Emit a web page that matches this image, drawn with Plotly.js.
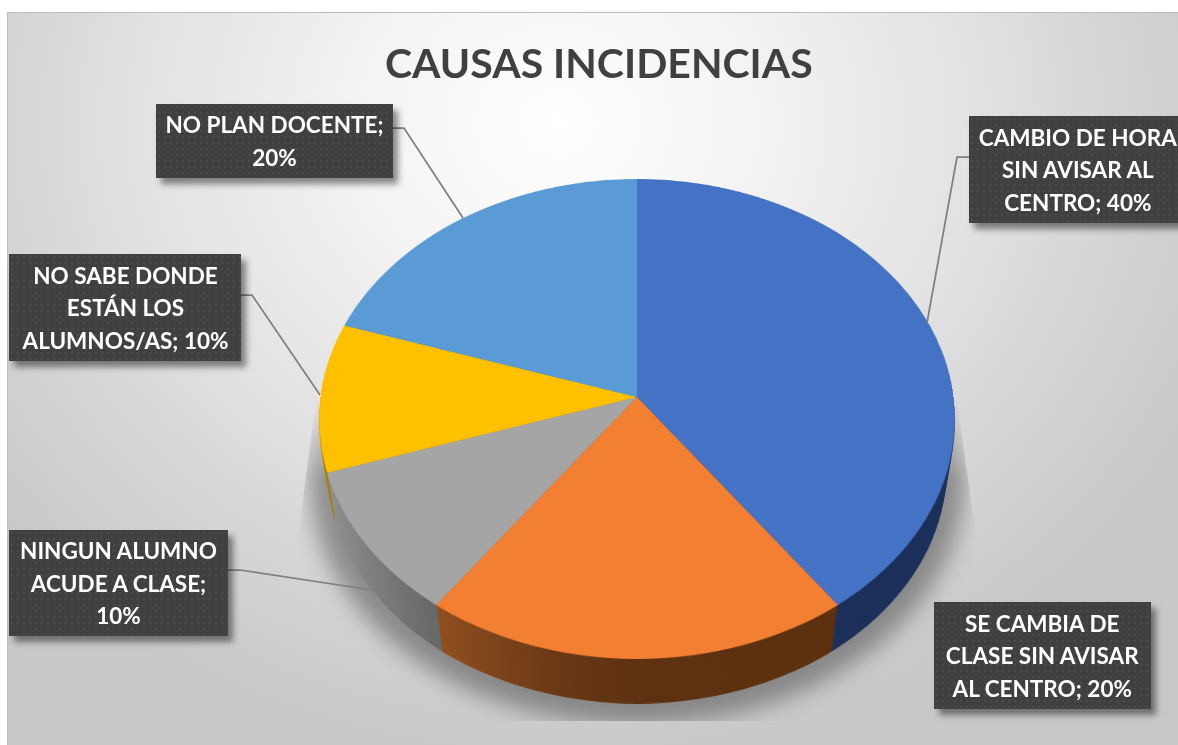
<!DOCTYPE html>
<html><head><meta charset="utf-8">
<script src="https://cdn.plot.ly/plotly-3.0.1.min.js"></script>
<style>
html,body{margin:0;padding:0;background:#fff;overflow:hidden;width:1178px;height:745px}
#stage{position:absolute;left:0;top:0;width:1178px;height:745px;overflow:hidden}
#bg{position:absolute;left:7px;top:12px;width:1171px;height:733px;box-sizing:border-box;border-left:1.5px solid #bdbdbd;border-top:1.5px solid #bdbdbd;
background:radial-gradient(ellipse 720px 640px at 550px 110px,#ffffff 0%,#f3f3f3 28%,#e2e2e2 58%,#d2d2d2 82%,#c8c8c8 100%)}
.pie{position:absolute;left:0;top:0;width:640px;height:640px;transform-origin:0 0}
#shadow{position:absolute;left:0;top:0;width:1178px;height:745px;filter:blur(11px);opacity:.55}
#shadowClip{position:absolute;left:0;top:0;width:1178px;height:745px;
clip-path:polygon(316px 400px,957px 400px,977px 545px,977px 721px,297px 721px,297px 545px);
-webkit-mask-image:linear-gradient(to bottom,transparent 385px,#000 480px);mask-image:linear-gradient(to bottom,transparent 385px,#000 480px)}
#overlay{position:absolute;left:0;top:0;width:1178px;height:745px}
</style></head><body>
<div id="stage"><div id="bg"></div><div id="shadowClip"><div id="shadow"></div></div><div id="sides"></div><div id="top"></div><div id="overlay"></div></div>
<svg width="0" height="0" style="position:absolute"><defs>
<linearGradient id="gOrange" x1="0" x2="1" y1="0" y2="0"><stop offset="0" stop-color="#8f4e1e"/><stop offset=".3" stop-color="#6a3815"/><stop offset=".5" stop-color="#5e3110"/><stop offset="1" stop-color="#5c2f0e"/></linearGradient>
<linearGradient id="gGray" x1="0" x2="1" y1="0" y2="0"><stop offset="0" stop-color="#8f8f8f"/><stop offset=".36" stop-color="#686868"/><stop offset="1" stop-color="#666"/></linearGradient>
<pattern id="dots" width="6" height="6" patternUnits="userSpaceOnUse"><rect width="6" height="6" fill="#404040"/><rect x="2" y="2" width="2" height="2" fill="#4a4a4a"/></pattern>
</defs></svg>
<script>
var categories=["CAMBIO DE HORA SIN AVISAR AL CENTRO","SE CAMBIA DE CLASE SIN AVISAR AL CENTRO","NINGUN ALUMNO ACUDE A CLASE","NO SABE DONDE ESTÁN LOS ALUMNOS/AS","NO PLAN DOCENTE"];
var values=[40,20,10,10,20];
var faceColors=["#4472C4","#F27F32","#A5A5A5","#FFC000","#5B9BD5"];
var sideColors=["#1B2F5A","#6e3a12","#6e6e6e","#A67C00","#3a6a96"];
var labelLines=[["CAMBIO DE HORA","SIN AVISAR AL","CENTRO; 40%"],["SE CAMBIA DE","CLASE SIN AVISAR","AL CENTRO; 20%"],["NINGUN ALUMNO","ACUDE A CLASE;","10%"],["NO SABE DONDE","ESTÁN LOS","ALUMNOS/AS; 10%"],["NO PLAN DOCENTE;","20%"]];
var titleText="CAUSAS INCIDENCIAS";

// label boxes [left, top, right, bottom] and leader polylines, in page pixels
var boxes=[[969,116,1187,223],[934,602,1151,709],[9,530,228,636],[9,254,241,361],[156,104,393,178]];
var leaders=[[[969,157],[957,157],[927,323]],[[0,0],[0,0]],[[228,570],[240,570],[372,590]],[[241,295],[252,295],[320,395]],[[393,128],[404,128],[463,218]]];

// projective placement of the disc
var P=-0.0917,A=316.5,B=238,CX=637,CY=397,R=320;
function mat(s,d){
  var y0=CY+d,a=s*A,b=s*B,w0=1-P;
  return "matrix3d("+[a/R,0,0,0, CX*P/R,b/R+y0*P/R,0,P/R, 0,0,1,0, CX*w0-a,y0*w0-b,0,w0].join(",")+")";
}
function pieTrace(colors){return [{type:"pie",values:values,labels:categories,sort:false,direction:"clockwise",rotation:0,
  marker:{colors:colors,line:{width:0}},textinfo:"none",hoverinfo:"skip",showlegend:false,domain:{x:[0,1],y:[0,1]}}];}
var pieLayout={width:640,height:640,margin:{l:0,r:0,t:0,b:0,pad:0},paper_bgcolor:"rgba(0,0,0,0)",plot_bgcolor:"rgba(0,0,0,0)",showlegend:false};
function addPie(parent,colors,s,d){
  var el=document.createElement("div");el.className="pie";parent.appendChild(el);el.style.transform=mat(s,d);
  return Plotly.newPlot(el,pieTrace(colors),pieLayout,{staticPlot:true,displayModeBar:false}).then(function(){return el;});
}
var N=32,jobs=[];
jobs.push(addPie(document.getElementById("shadow"),values.map(function(){return "#4f4f4f";}),1.03,58));
for(var i=N;i>=1;i--){(function(k){
  jobs.push(addPie(document.getElementById("sides"),sideColors,1-0.028*k/N,52*k/N).then(function(el){
    var p=el.querySelectorAll("g.slice path.surface");
    if(p[1])p[1].style.fill="url(#gOrange)";
    if(p[2])p[2].style.fill="url(#gGray)";
  }));
})(i);}
jobs.push(addPie(document.getElementById("top"),faceColors,1,0));

var ann=[{x:599,y:62,text:"<b>"+titleText+"</b>",showarrow:false,xref:"x",yref:"y",xanchor:"center",yanchor:"middle",font:{family:"Lato",size:41,color:"#404040"}}];
boxes.forEach(function(b,i){
  ann.push({x:(b[0]+b[2])/2,y:(b[1]+b[3])/2,xref:"x",yref:"y",xanchor:"center",yanchor:"middle",showarrow:false,
    width:b[2]-b[0],height:b[3]-b[1],borderpad:0,borderwidth:0,bgcolor:"#404040",align:"center",valign:"middle",
    font:{family:"Lato",size:25,color:"#ffffff"},
    text:labelLines[i].map(function(t){return '<span style="font-size:22.5px;font-weight:bold">'+t+'</span>';}).join("<br>")});
});
var shapes=leaders.filter(function(l){return l[0][0]>0;}).map(function(l){
  return {type:"path",xref:"x",yref:"y",path:l.map(function(p,i){return (i?"L":"M")+p[0]+","+p[1];}).join(" "),line:{color:"#7f7f7f",width:1.75},layer:"above"};
});
jobs.push(Plotly.newPlot("overlay",[{type:"scatter",x:[],y:[],hoverinfo:"skip"}],{width:1178,height:745,margin:{l:0,r:0,t:0,b:0,pad:0},
  paper_bgcolor:"rgba(0,0,0,0)",plot_bgcolor:"rgba(0,0,0,0)",showlegend:false,
  xaxis:{range:[0,1178],visible:false,fixedrange:true},yaxis:{range:[745,0],visible:false,fixedrange:true},
  annotations:ann,shapes:shapes},{staticPlot:true,displayModeBar:false}).then(function(){
    document.querySelectorAll("#overlay .annotation rect.bg").forEach(function(r,i){
      if(i>0){r.style.fill="url(#dots)";r.style.filter="drop-shadow(5px 6px 3px rgba(0,0,0,.45))";}
    });
}));
</script></body></html>
